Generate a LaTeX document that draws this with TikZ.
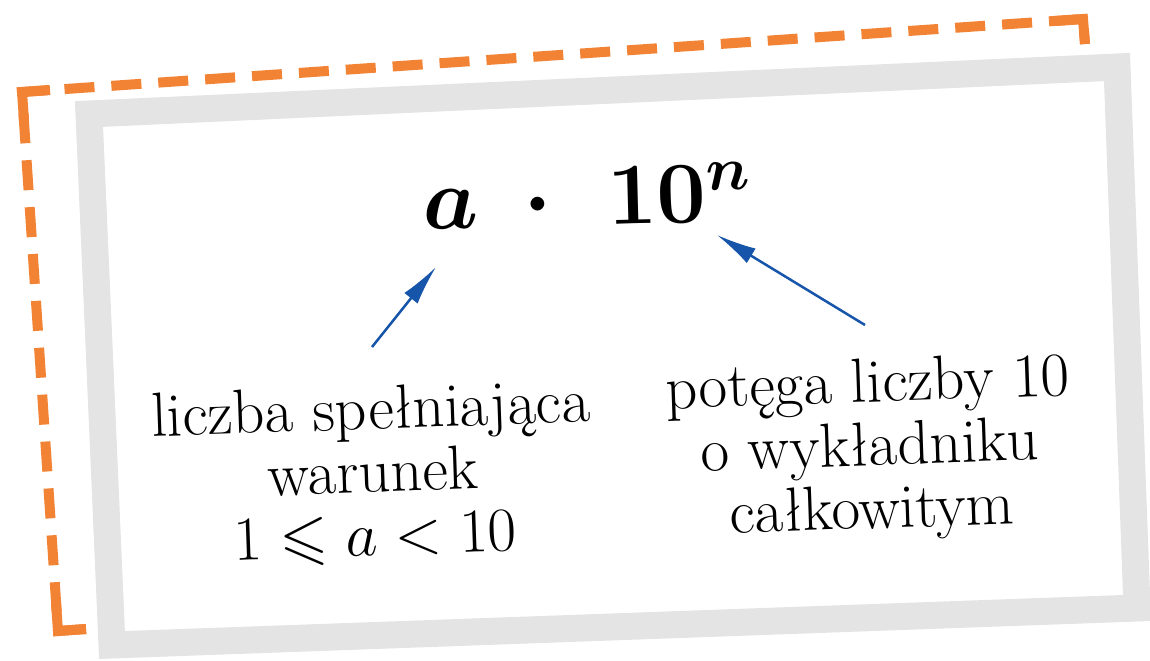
\documentclass[tikz,border=0pt]{standalone}
\usepackage{fix-cm}
\usepackage{amsmath,amssymb}
\DeclareFontFamily{U}{msa}{}
\DeclareFontShape{U}{msa}{m}{n}{<-> msam10}{}
\usepackage{xcolor}
\usepackage{tikz}
\usetikzlibrary{arrows.meta}
\definecolor{cardgray}{RGB}{228,228,228}
\definecolor{dashorange}{RGB}{242,130,52}
\definecolor{arrowblue}{RGB}{22,85,170}

\begin{document}
\begin{tikzpicture}[
    x=0.02cm, y=-0.02cm,
    frame/.style={draw=cardgray, line width=0.54cm, line join=miter},
    outline/.style={draw=dashorange, line width=0.2cm, dash pattern=on 0.6cm off 0.34cm},
    corner/.style={draw=dashorange, line width=0.2cm, line join=miter},
    formula/.style={anchor=base, rotate=1.5, font={\fontsize{50}{56}\selectfont\boldmath}},
    note/.style={align=center, font={\fontsize{35.5}{36}\selectfont}, rotate=2},
    arrow/.style={-{Latex[length=0.8cm, width=0.34cm]}, line width=0.05cm, color=arrowblue}
]
    \useasboundingbox (0,0) rectangle (1150,660);
    \draw[outline] (86,629) -- (58,631) -- (22,92) -- (1083,19) -- (1085,44);
    \draw[corner] (86,629) -- (58,631) -- (56,603);
    \draw[corner] (24,120) -- (22,92) -- (50,90);
    \draw[corner] (1055,21) -- (1083,19) -- (1085,44);
    \draw[frame] (89,114) -- (1117,67) -- (1137,608) -- (112,645) -- cycle;

    \node[formula] (product) at (588,225) {$a\mspace{8mu}\mathord{\cdot}\mspace{10mu}10^{n}$};
    \node[note] (mantissa) at (373,475) {liczba spełniająca\\warunek\\$1\leqslant a<10$};
    \node[note] (power) at (870,450) {potęga liczby 10\\o wykładniku\\całkowitym};

    \coordinate (mtail) at (372,347);
    \coordinate (mtip) at (436,267);
    \coordinate (ptail) at (865,325);
    \coordinate (ptip) at (717,235);
    \draw[arrow] (mtail) -- (mtip);
    \draw[arrow] (ptail) -- (ptip);
\end{tikzpicture}
\end{document}
